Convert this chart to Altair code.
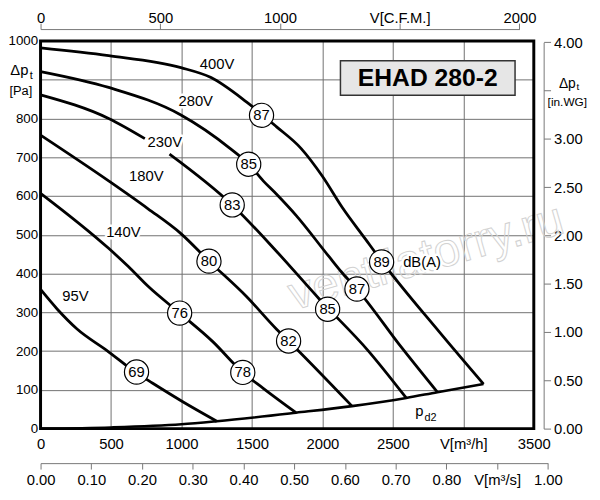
import altair as alt
import pandas as pd

# ---------------- data ----------------
# characteristic curves: air flow V [m3/h] -> total pressure dp [Pa]
v400_q = [0, 483, 996, 1206, 1463, 1673, 1848, 2000, 2140, 2303, 2420, 2828, 3143]
v400_p = [982, 962, 931, 906, 842, 779, 723, 651, 571, 490, 432, 250, 115]
v280_q = [0, 483, 996, 1344, 1477, 1580, 1673, 1813, 2046, 2140, 2245, 2560, 2816]
v280_p = [921, 880, 809, 723, 682, 639, 605, 550, 444, 402, 360, 210, 94]
v230a_q = [0, 483, 740]
v230a_p = [861, 800, 748]
v230b_q = [915, 1360, 1680, 1976, 2327, 2595]
v230b_p = [708, 577, 455, 335, 200, 79]
v180_q = [0, 483, 763, 996, 1195, 1463, 1673, 1760, 2210]
v180_p = [757, 639, 567, 503, 432, 340, 257, 226, 58]
v140_q = [0, 483, 623, 763, 987, 1220, 1435, 1580, 1813]
v140_p = [607, 465, 418, 367, 298, 225, 145, 104, 41]
v95_q = [0, 119, 259, 469, 679, 796, 1006, 1251]
v95_p = [359, 308, 257, 202, 144, 117, 70, 19]
pd2_q = [0, 500, 1000, 1251, 1813, 2210, 2595, 2816, 3143]
pd2_p = [0, 3, 11, 19, 41, 58, 79, 94, 115]

# sound level circles
circ_q = [1568, 1477, 1360, 1195, 987, 681, 2420, 2245, 2037, 1760, 1435]
circ_p = [808, 682, 577, 432, 298, 146, 430, 360, 308, 226, 145]
circ_t = ["87", "85", "83", "80", "76", "69", "89", "87", "85", "82", "78"]

# curve labels
lab_q = [1253, 1101, 882, 751, 588, 247, 2707]
lab_p = [941, 846, 738, 651, 507, 342, 429]
lab_t = ["400V", "280V", "230V", "180V", "140V", "95V", "dB(A)"]

# ticks
m3h_ticks = [0, 500, 1000, 1500, 2000, 2500, 3000, 3500]
pa_ticks = [0, 100, 200, 300, 400, 500, 600, 700, 800, 900, 1000]
cfm_ticks = [0, 500, 1000, 1500, 2000]
ms_ticks = [0.0, 0.1, 0.2, 0.3, 0.4, 0.5, 0.6, 0.7, 0.8, 0.9, 1.0]
inwg_ticks = [0.0, 0.5, 1.0, 1.5, 2.0, 2.5, 3.0, 3.5, 4.0]

TITLE = "EHAD 280-2"
title_q = [2128, 3367]
title_p = [860, 949]

# axis unit captions (with subscripts), placed in data units
cap_q = [-150, -66, -140, 3738, 3813, 3738, 2688, 2767]
cap_p = [926, 910, 870, 889, 880, 842, 46, 28]
cap_t = ["Δp", "t", "[Pa]", "Δp", "t", "[in.WG]", "p", "d2"]
cap_s = [15, 11, 13, 14, 10, 12, 15, 11]

WATERMARK = "ventilatorry.ru"
wm_q, wm_p = [2737], [440]

# ---------------- layout constants ----------------
W, H = 500, 393
Q_DOMAIN = [0, 3500]
P_DOMAIN = [0, 1000]
CFM_M3H = 1.699      # m3/h per CFM
M3S_M3H = 3600.0     # m3/h per m3/s
PA_INWG = 249.09     # Pa per in.WG
FONT = "Liberation Sans"

rows = []
for name, qs, ps in [("400V", v400_q, v400_p), ("280V", v280_q, v280_p),
                     ("230Va", v230a_q, v230a_p), ("230Vb", v230b_q, v230b_p),
                     ("180V", v180_q, v180_p), ("140V", v140_q, v140_p),
                     ("95V", v95_q, v95_p)]:
    for i, (q, p) in enumerate(zip(qs, ps)):
        rows.append({"seg": name, "q": q, "p": p, "o": i})
curves_df = pd.DataFrame(rows)
pd2_df = pd.DataFrame({"q": pd2_q, "p": pd2_p, "o": list(range(len(pd2_q)))})
circ_df = pd.DataFrame({"q": circ_q, "p": circ_p, "t": circ_t})
lab_df = pd.DataFrame({"q": lab_q, "p": lab_p, "t": lab_t})
cap_df = pd.DataFrame({"q": cap_q, "p": cap_p, "t": cap_t, "s": cap_s})
title_df = pd.DataFrame({"q0": [title_q[0]], "q1": [title_q[1]], "p0": [title_p[0]],
                         "p1": [title_p[1]], "t": [TITLE],
                         "qc": [sum(title_q) / 2], "pc": [sum(title_p) / 2]})
frame_df = pd.DataFrame({"q0": [Q_DOMAIN[0]], "q1": [Q_DOMAIN[1]],
                         "p0": [P_DOMAIN[0]], "p1": [P_DOMAIN[1]]})
wm_df = pd.DataFrame({"q": wm_q, "p": wm_p, "t": [WATERMARK]})

xsc = alt.Scale(domain=Q_DOMAIN, nice=False, zero=False)
ysc = alt.Scale(domain=P_DOMAIN, nice=False, zero=False)

x_axis = alt.Axis(values=m3h_ticks, format="d", grid=True, domain=False, ticks=False,
                  tickSize=0, labelPadding=8, title=None, labelOverlap=False,
                  labelExpr="datum.value == 3000 ? 'V[m³/h]' : datum.label")
y_axis = alt.Axis(values=pa_ticks, format="d", grid=True, domain=False, ticks=False,
                  tickSize=0, labelPadding=3, labelFontSize=13.5, title=None, labelOverlap=False,
                  labelExpr="datum.value == 900 ? '' : datum.label")


def X(f):
    return alt.X(f, type="quantitative", scale=xsc, axis=x_axis)


def Y(f):
    return alt.Y(f, type="quantitative", scale=ysc, axis=y_axis)


watermark = alt.Chart(wm_df).mark_text(
    font=FONT, fontSize=48, angle=344, fill="white", fillOpacity=0,
    stroke="#d2d2d2", strokeWidth=1, align="center", baseline="middle"
).encode(x=X("q"), y=Y("p"), text="t:N")

pd2_line = alt.Chart(pd2_df).mark_line(color="black", strokeWidth=2.6, interpolate="monotone").encode(
    x=X("q"), y=Y("p"), order="o:Q")

curves = alt.Chart(curves_df).mark_line(color="black", strokeWidth=2.8, interpolate="monotone").encode(
    x=X("q"), y=Y("p"), detail="seg:N", order="o:Q")

title_box = alt.Chart(title_df).mark_rect(fill="#e6e6e6", stroke="#333333", strokeWidth=1.5).encode(
    x=X("q0"), x2="q1", y=Y("p0"), y2="p1")
title_text = alt.Chart(title_df).mark_text(font=FONT, fontSize=25, fontWeight="bold", color="black",
                                           align="center", baseline="middle").encode(
    x=X("qc"), y=Y("pc"), text="t:N")

lab_halo = alt.Chart(lab_df).mark_text(font=FONT, fontSize=15, fill="white", stroke="white",
                                       strokeWidth=5, strokeJoin="round",
                                       align="center", baseline="middle").encode(
    x=X("q"), y=Y("p"), text="t:N")
lab_text = alt.Chart(lab_df).mark_text(font=FONT, fontSize=15, color="black",
                                       align="center", baseline="middle").encode(
    x=X("q"), y=Y("p"), text="t:N")

circles = alt.Chart(circ_df).mark_circle(size=600, color="white", stroke="black",
                                         strokeWidth=1.2, opacity=1).encode(x=X("q"), y=Y("p"))
circ_text = alt.Chart(circ_df).mark_text(font=FONT, fontSize=15, color="black",
                                         align="center", baseline="middle").encode(
    x=X("q"), y=Y("p"), text="t:N")

captions = alt.Chart(cap_df).mark_text(font=FONT, color="black", fill="black", align="center",
                                       baseline="middle").encode(
    x=X("q"), y=Y("p"), text="t:N",
    size=alt.Size("s:Q", scale=None, legend=None))

frame = alt.Chart(frame_df).mark_rect(fillOpacity=0, fill="white", stroke="black", strokeWidth=3).encode(
    x=X("q0"), x2="q1", y=Y("p0"), y2="p1")

main = alt.layer(watermark, pd2_line, curves, title_box, title_text, lab_halo, lab_text,
                 circles, circ_text, captions, frame)

# extra unit axes
cfm_layer = alt.Chart(pd.DataFrame({"v": cfm_ticks})).mark_point(opacity=0).encode(
    x=alt.X("v:Q",
            scale=alt.Scale(domain=[0, cfm_ticks[-1]],
                            range=[0, W * cfm_ticks[-1] * CFM_M3H / Q_DOMAIN[1]],
                            nice=False, zero=False),
            axis=alt.Axis(orient="top", offset=12, values=cfm_ticks, format="d", grid=False,
                          tickSize=6, labelPadding=1, labelBaseline="alphabetic",
                          domainColor="#777777", tickColor="#777777",
                          title=None, labelOverlap=False,
                          labelExpr="datum.value == 1500 ? 'V[C.F.M.]' : datum.label")))

ms_layer = alt.Chart(pd.DataFrame({"v": ms_ticks})).mark_point(opacity=0).encode(
    x=alt.X("v:Q",
            scale=alt.Scale(domain=[0, ms_ticks[-1]],
                            range=[0, W * ms_ticks[-1] * M3S_M3H / Q_DOMAIN[1]],
                            nice=False, zero=False),
            axis=alt.Axis(orient="bottom", offset=35, values=ms_ticks, format=".2f", grid=False,
                          tickSize=6, labelPadding=4, domainColor="#777777", tickColor="#777777",
                          title=None, labelOverlap=False,
                          labelExpr="datum.value == 0.9 ? 'V[m³/s]' : datum.label")))

inwg_layer = alt.Chart(pd.DataFrame({"v": inwg_ticks})).mark_point(opacity=0).encode(
    y=alt.Y("v:Q",
            scale=alt.Scale(domain=[0, inwg_ticks[-1]],
                            range=[H, H - H * inwg_ticks[-1] * PA_INWG / P_DOMAIN[1]],
                            nice=False, zero=False),
            axis=alt.Axis(orient="right", offset=10, values=inwg_ticks, format=".2f", grid=False,
                          tickSize=7, labelPadding=3, domainColor="#777777", tickColor="#777777",
                          title=None, labelOverlap=False,
                          labelExpr="datum.value == 3.5 ? '' : datum.label")))

chart = alt.layer(main, cfm_layer, ms_layer, inwg_layer).resolve_scale(
    x="independent", y="independent"
).properties(
    width=W, height=H,
    autosize=alt.AutoSizeParams(type="none"),
    padding={"left": 33, "top": 30, "right": 59, "bottom": 69},
).configure_view(strokeWidth=0).configure_axis(
    labelFont=FONT, labelFontSize=15, labelColor="black", labelFlush=False,
    gridColor="#707070", gridWidth=1
)

chart.save("out.html", embed_options={"renderer": "svg", "actions": False})
